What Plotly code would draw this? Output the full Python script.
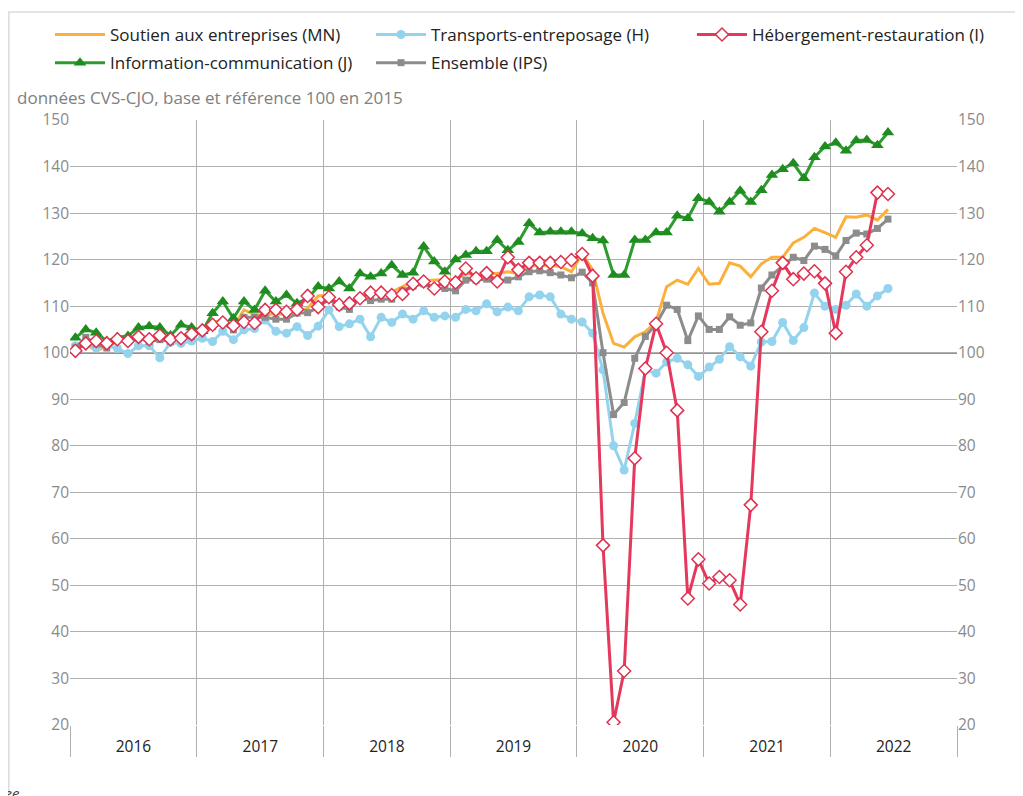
import plotly.graph_objects as go

# Months: Jan 2016 .. Jun 2022
years = [2016, 2017, 2018, 2019, 2020, 2021, 2022]
months = [f"{y}-{m:02d}" for y in years for m in range(1, 13)][:78]

soutien_mn = [
    101.0, 102.0, 100.3, 101.5, 102.3, 102.8, 103.0, 103.0, 102.8, 103.0, 103.5, 104.5,
    105.0, 106.5, 107.0, 105.5, 109.2, 108.2, 108.0, 108.5, 108.0, 109.0, 109.5, 112.2,
    112.4, 110.0, 110.5, 112.4, 113.1, 112.8, 113.0, 114.2, 115.3, 115.5, 115.6, 115.8,
    115.8, 117.0, 116.7, 117.0, 117.0, 117.4, 117.0, 118.5, 118.8, 118.8, 118.5, 117.4,
    121.3, 117.8, 108.5, 102.0, 101.2, 103.4, 104.5, 106.7, 114.2, 115.6, 114.7, 118.1,
    114.7, 114.9, 119.3, 118.6, 116.3, 119.1, 120.5, 120.5, 123.6, 124.8, 126.7, 125.8,
    124.8, 129.2, 129.1, 129.6, 128.5, 130.8,
]
transports_h = [
    101.5, 102.3, 101.0, 101.5, 100.9, 99.8, 101.5, 101.5, 98.9, 102.2, 102.0, 102.5,
    103.1, 102.4, 104.6, 102.8, 104.9, 105.2, 107.0, 104.6, 104.2, 105.6, 103.7, 105.7,
    109.2, 105.6, 106.2, 107.2, 103.4, 107.6, 106.5, 108.3, 107.2, 109.0, 107.6, 107.9,
    107.6, 109.3, 109.0, 110.5, 108.8, 109.8, 109.0, 112.0, 112.4, 112.0, 108.3, 107.2,
    106.6, 104.2, 96.3, 80.0, 74.8, 84.8, 96.2, 95.6, 98.0, 98.8, 97.4, 94.9,
    96.9, 98.6, 101.3, 99.1, 97.1, 102.3, 102.4, 106.5, 102.6, 105.4, 112.8, 110.0,
    109.3, 110.2, 112.6, 110.0, 112.2, 113.8,
]
hebergement_i = [
    100.4, 102.0, 102.5, 102.0, 102.9, 102.5, 103.4, 102.9, 103.7, 102.9, 103.1, 104.0,
    104.8, 106.0, 106.5, 105.8, 106.6, 106.4, 109.2, 109.2, 108.8, 109.3, 112.2, 109.8,
    111.9, 110.3, 110.6, 111.7, 112.9, 112.9, 112.4, 112.6, 114.8, 115.3, 113.8, 115.3,
    115.1, 118.1, 116.0, 117.1, 115.3, 120.5, 117.8, 119.3, 119.3, 119.3, 119.5, 119.9,
    121.2, 116.5, 58.6, 20.6, 31.6, 77.3, 96.6, 106.2, 100.0, 87.6, 47.2, 55.6,
    50.4, 51.8, 51.1, 45.9, 67.3, 104.5, 113.3, 119.3, 115.8, 117.0, 117.5, 114.9,
    104.2, 117.4, 120.5, 123.1, 134.4, 134.1,
]
information_j = [
    103.2, 105.0, 104.3, 102.5, 103.3, 103.6, 105.4, 105.7, 105.4, 103.7, 106.0, 105.4,
    104.6, 108.5, 111.0, 107.4, 111.0, 109.2, 113.3, 111.0, 112.4, 110.6, 111.7, 114.2,
    113.8, 115.3, 113.8, 117.0, 116.3, 117.0, 118.8, 116.7, 117.2, 122.8, 119.6, 117.4,
    120.0, 121.0, 121.8, 121.8, 124.2, 122.0, 123.8, 127.8, 125.8, 126.0, 126.0, 126.0,
    125.6, 124.6, 124.1, 116.7, 116.7, 124.2, 124.2, 125.8, 125.8, 129.4, 128.9, 133.2,
    132.4, 130.3, 132.4, 134.8, 132.4, 134.9, 138.2, 139.4, 140.7, 137.5, 142.0, 144.3,
    145.1, 143.4, 145.6, 145.7, 144.6, 147.3,
]
ensemble_ips = [
    101.0, 103.3, 101.9, 101.0, 102.8, 102.9, 103.1, 102.4, 102.8, 102.4, 103.3, 103.5,
    104.5, 105.6, 106.3, 104.9, 107.6, 107.6, 107.6, 107.2, 107.2, 108.5, 108.6, 109.7,
    111.5, 109.8, 109.3, 111.7, 111.2, 111.5, 111.5, 113.3, 114.3, 114.8, 113.8, 113.8,
    113.3, 115.6, 115.6, 115.8, 115.6, 115.6, 116.3, 117.4, 117.6, 117.2, 116.7, 116.1,
    117.3, 115.0, 100.0, 86.7, 89.3, 98.8, 103.5, 106.1, 110.2, 109.3, 102.6, 107.9,
    105.0, 105.0, 107.7, 105.9, 106.4, 113.9, 116.7, 118.6, 120.5, 119.8, 122.9, 122.2,
    120.8, 124.1, 125.7, 125.5, 126.7, 128.7,
]

names = [
    "Soutien aux entreprises (MN)",
    "Transports-entreposage (H)",
    "Hébergement-restauration (I)",
    "Information-communication (J)",
    "Ensemble (IPS)",
]
ytick_vals = list(range(20, 151, 10))
ref_level = 100

FONT = "Open Sans"
GRID = "#b0b0b0"
OFF = 8  # page body margin
W, H = 1023, 796
L, T = 62, 112
PW, PH = 887, 605
R, B = W - L - PW, H - T - PH


def px_x(p):  # screen pixel -> paper x
    return (p - OFF - L) / PW


def px_y(p):  # screen pixel -> paper y
    return (T + PH - (p - OFF)) / PH


fig = go.Figure()
common = dict(x=months, xperiod="M1", xperiodalignment="middle", mode="lines+markers")

fig.add_trace(go.Scatter(y=soutien_mn, name=names[0], mode="lines",
                         x=months, xperiod="M1", xperiodalignment="middle",
                         line=dict(color="#FBB03B", width=3),
                         legend="legend", legendgroup="mn", legendrank=1))
fig.add_trace(go.Scatter(y=transports_h, name=names[1], **common,
                         line=dict(color="#93D3EE", width=3),
                         marker=dict(symbol="circle", size=9, color="#93D3EE"),
                         legend="legend2", legendgroup="h", legendrank=1))
fig.add_trace(go.Scatter(y=information_j, name=names[3], **common,
                         line=dict(color="#2E9B2E", width=3),
                         marker=dict(symbol="triangle-up", size=11, color="#1F8C1F"),
                         legend="legend", legendgroup="j", legendrank=2))
fig.add_trace(go.Scatter(y=ensemble_ips, name=names[4], **common,
                         line=dict(color="#8C8C8C", width=3),
                         marker=dict(symbol="square", size=7, color="#8C8C8C"),
                         legend="legend2", legendgroup="ips", legendrank=2))
fig.add_trace(go.Scatter(y=hebergement_i, name=names[2], **common,
                         line=dict(color="#E5385C", width=3),
                         marker=dict(symbol="diamond", size=10, color="white",
                                     line=dict(color="#E0304F", width=1.5)),
                         legend="legend3", legendgroup="i", legendrank=1))
# invisible trace to carry the right-hand axis
fig.add_trace(go.Scatter(x=[months[0]], y=[None], yaxis="y2", showlegend=False,
                         hoverinfo="skip"))

fig.add_shape(type="line", xref="paper", x0=0, x1=1, yref="y",
              y0=ref_level, y1=ref_level,
              line=dict(color="#1A1A8C", width=1.5), layer="between")
# outer frame
fig.add_shape(type="rect", xref="paper", yref="paper",
              x0=px_x(8.8), x1=px_x(1060), y0=px_y(840), y1=px_y(12),
              line=dict(color="#dcdcdc", width=1.5), fillcolor="rgba(0,0,0,0)")

fig.add_annotation(text="données CVS-CJO, base et référence 100 en 2015",
                   xref="paper", yref="paper", x=px_x(15), y=px_y(97),
                   xanchor="left", yanchor="middle", showarrow=False,
                   font=dict(family=FONT, size=17, color="#808080"))
fig.add_annotation(text="<i>Source : Insee</i>",
                   xref="paper", yref="paper", x=px_x(22), y=px_y(793),
                   xanchor="right", yanchor="middle", showarrow=False,
                   font=dict(family=FONT, size=15, color="#404040"))

leg_common = dict(orientation="v", xanchor="left", yanchor="top",
                  itemwidth=50, tracegroupgap=3,
                  font=dict(family=FONT, size=17, color="#222"),
                  bgcolor="rgba(0,0,0,0)", traceorder="grouped")

fig.update_layout(
    width=W, height=H,
    margin=dict(l=L, r=R, t=T, b=B, autoexpand=False),
    paper_bgcolor="white", plot_bgcolor="white",
    font=dict(family=FONT, size=15.5, color="#222"),
    showlegend=True,
    legend=dict(x=px_x(50), y=px_y(17), **leg_common),
    legend2=dict(x=px_x(371), y=px_y(17), **leg_common),
    legend3=dict(x=px_x(692), y=px_y(17), **leg_common),
    xaxis=dict(type="date", range=["2016-01-01", "2023-01-01"],
               dtick="M12", tick0="2016-01-01", tickformat="%Y",
               ticklabelmode="period", showgrid=True, gridcolor=GRID, gridwidth=1,
               ticks="outside", ticklen=31, tickcolor=GRID, tickwidth=1,
               ticklabelstandoff=-24,
               tickfont=dict(family=FONT, size=15.5, color="#222"),
               showline=False, zeroline=False),
    yaxis=dict(range=[20, 150], tickvals=ytick_vals, showgrid=True,
               gridcolor=GRID, gridwidth=1, zeroline=False, showline=False,
               tickfont=dict(family=FONT, size=15.5, color="#8a8a8a")),
    yaxis2=dict(range=[20, 150], tickvals=ytick_vals, overlaying="y", side="right",
                showgrid=False, zeroline=False, showline=False,
                tickfont=dict(family=FONT, size=15.5, color="#8a8a8a")),
)

fig.write_html("out.html")
